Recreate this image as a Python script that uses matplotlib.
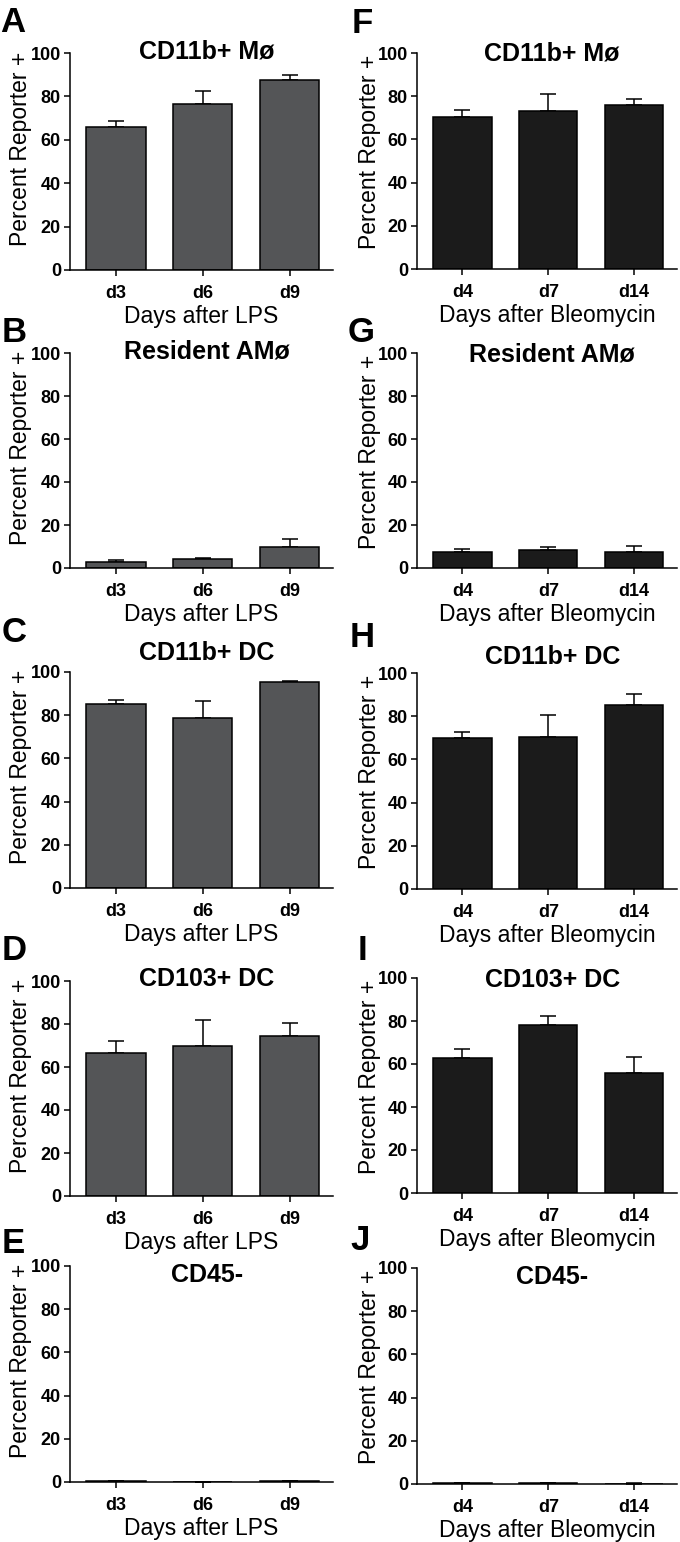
import matplotlib
matplotlib.use("Agg")
import matplotlib.pyplot as plt

plt.rcParams['font.family'] = ['Liberation Sans', 'DejaVu Sans']

cellTypes = ['CD11b+ Mø', 'Resident AMø', 'CD11b+ DC', 'CD103+ DC', 'CD45-']
lpsDays = ['d3', 'd6', 'd9']
bleoDays = ['d4', 'd7', 'd14']

lpsMean = [[65.8, 76.6, 87.5], [2.9, 4.3, 9.9], [85.1, 78.6, 95.2],
           [66.7, 69.8, 74.4], [0.3, 0.1, 0.3]]
lpsSem = [[2.8, 6.0, 2.5], [0.8, 0.3, 3.5], [1.9, 8.2, 0.8],
          [5.2, 11.9, 6.2], [0.1, 0.1, 0.1]]
bleoMean = [[70.5, 73.1, 75.8], [7.3, 8.5, 7.3], [70.0, 70.6, 85.2],
            [62.9, 78.2, 55.8], [0.4, 0.5, 0.2]]
bleoSem = [[3.1, 8.1, 2.9], [1.4, 1.4, 2.9], [2.8, 9.8, 5.1],
           [4.3, 4.2, 7.4], [0.1, 0.1, 0.1]]

W, H = 680, 1542
fig = plt.figure(figsize=(W / 100, H / 100), dpi=100)


def addAxes(x0, x1, top, bottom):
    return fig.add_axes([x0 / W, 1 - bottom / H, (x1 - x0) / W, (bottom - top) / H])


def drawPanel(ax, days, means, sems, color, title, titleY, xlabel):
    x = list(range(len(days)))
    ax.bar(x, means, width=0.68, color=color, edgecolor='black', linewidth=1.1, zorder=2)
    ax.errorbar(x, means, yerr=[[0] * len(sems), sems], fmt='none', ecolor='black',
                elinewidth=1.1, capsize=5.5, capthick=1.1, zorder=1)
    ax.set_xlim(-0.53, 2.5)
    ax.set_ylim(0, 100)
    ax.set_yticks([0, 20, 40, 60, 80, 100])
    ax.set_xticks(x)
    ax.set_xticklabels(days, fontweight='bold')
    for lab in ax.get_yticklabels():
        lab.set_fontweight('bold')
    ax.tick_params(axis='both', labelsize=13, width=1.1, length=4, pad=2.5, direction='out')
    ax.tick_params(axis='x', pad=7)
    for s in ['top', 'right']:
        ax.spines[s].set_visible(False)
    for s in ['left', 'bottom']:
        ax.spines[s].set_linewidth(1.1)
    ax.set_ylabel('Percent Reporter +', fontsize=16.5)
    ax.set_xlabel(xlabel, fontsize=16.5, labelpad=2)
    ax.text(0.52, titleY, title, transform=ax.transAxes, ha='center', va='center',
            fontsize=18, fontweight='bold')


leftRows = [(53, 270), (353, 568), (672, 888), (981, 1196), (1266, 1482)]
rightRows = [(53, 269), (353, 568), (673, 889), (978, 1193), (1268, 1484)]
leftTitleY = [1.005, 1.005, 1.088, 1.009, 0.958]
rightTitleY = [1.0, 0.995, 1.074, 0.99, 0.958]
leftLetters = [('A', 0, 32), ('B', 2, 342), ('C', 2, 642), ('D', 2, 960), ('E', 2, 1253)]
rightLetters = [('F', 352, 33), ('G', 348, 342), ('H', 350, 647), ('I', 358, 960), ('J', 350, 1250)]

for i in range(5):
    ax = addAxes(70, 333, leftRows[i][0], leftRows[i][1])
    drawPanel(ax, lpsDays, lpsMean[i], lpsSem[i], '#545557', cellTypes[i],
              leftTitleY[i], 'Days after LPS')
    ax.yaxis.set_label_coords(-0.144, 0.56)

    ax = addAxes(417, 677, rightRows[i][0], rightRows[i][1])
    drawPanel(ax, bleoDays, bleoMean[i], bleoSem[i], '#1b1b1b', cellTypes[i],
              rightTitleY[i], 'Days after Bleomycin')
    ax.yaxis.set_label_coords(-0.14, 0.54)

for letter, px, py in leftLetters + rightLetters:
    fig.text(px / W, 1 - py / H, letter, fontsize=25, fontweight='bold',
             ha='left', va='baseline')

fig.savefig('out.png', dpi=100)
